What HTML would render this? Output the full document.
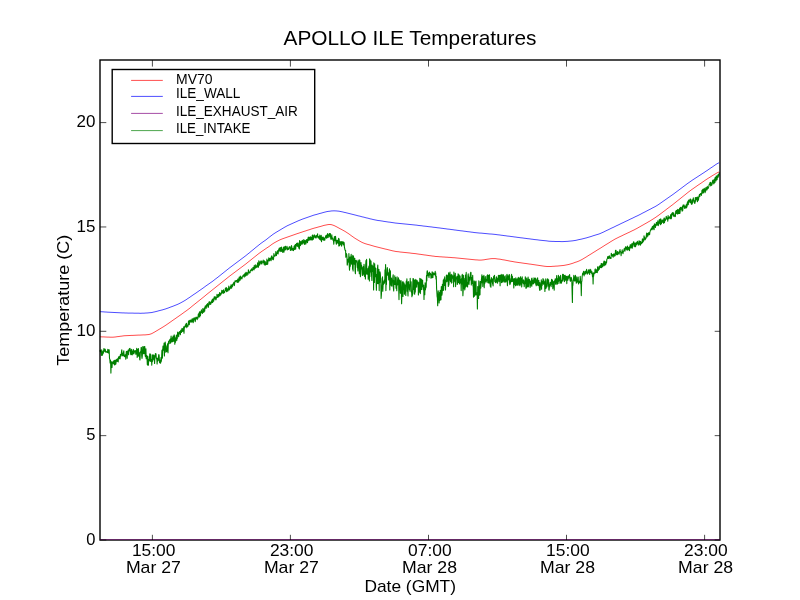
<!DOCTYPE html>
<html><head><meta charset="utf-8"><title>APOLLO ILE Temperatures</title>
<style>
html,body{margin:0;padding:0;background:#fff;}
body{width:800px;height:600px;overflow:hidden;font-family:"Liberation Sans",sans-serif;}
svg{display:block;will-change:transform;transform:translateZ(0);}
text{font-family:"Liberation Sans",sans-serif;fill:#000;}
</style></head><body>
<svg width="800" height="600" viewBox="0 0 800 600">
<rect width="800" height="600" fill="#ffffff"/>
<g>
<path d="M100.0,336.8 L101.0,336.8 L102.0,336.9 L103.0,336.9 L104.0,336.9 L105.0,337.0 L106.0,337.0 L107.0,337.1 L108.0,337.1 L109.0,337.1 L110.0,337.2 L111.0,337.2 L112.0,337.2 L113.0,337.2 L114.0,337.1 L115.0,337.0 L116.0,336.9 L117.0,336.7 L118.0,336.6 L119.0,336.5 L120.0,336.3 L121.0,336.2 L122.0,336.1 L123.0,335.9 L124.0,335.8 L125.0,335.7 L126.0,335.7 L127.0,335.6 L128.0,335.6 L129.0,335.5 L130.0,335.5 L131.0,335.4 L132.0,335.4 L133.0,335.4 L134.0,335.3 L135.0,335.3 L136.0,335.2 L137.0,335.2 L138.0,335.1 L139.0,335.1 L140.0,335.1 L141.0,335.0 L142.0,335.0 L143.0,334.9 L144.0,334.9 L145.0,334.9 L146.0,334.8 L147.0,334.7 L148.0,334.6 L149.0,334.5 L150.0,334.2 L151.0,333.9 L152.0,333.5 L153.0,332.9 L154.0,332.4 L155.0,331.8 L156.0,331.2 L157.0,330.6 L158.0,330.0 L159.0,329.4 L160.0,328.8 L161.0,328.2 L162.0,327.6 L163.0,327.0 L164.0,326.4 L165.0,325.7 L166.0,325.1 L167.0,324.4 L168.0,323.7 L169.0,323.0 L170.0,322.3 L171.0,321.6 L172.0,320.9 L173.0,320.2 L174.0,319.5 L175.0,318.8 L176.0,318.1 L177.0,317.4 L178.0,316.7 L179.0,316.0 L180.0,315.3 L181.0,314.6 L182.0,313.9 L183.0,313.2 L184.0,312.4 L185.0,311.7 L186.0,311.0 L187.0,310.3 L188.0,309.5 L189.0,308.8 L190.0,308.0 L191.0,307.2 L192.0,306.3 L193.0,305.5 L194.0,304.7 L195.0,303.9 L196.0,303.1 L197.0,302.3 L198.0,301.5 L199.0,300.7 L200.0,299.9 L201.0,299.1 L202.0,298.3 L203.0,297.5 L204.0,296.7 L205.0,295.9 L206.0,295.0 L207.0,294.2 L208.0,293.4 L209.0,292.6 L210.0,291.8 L211.0,291.0 L212.0,290.2 L213.0,289.4 L214.0,288.6 L215.0,287.8 L216.0,287.0 L217.0,286.2 L218.0,285.4 L219.0,284.6 L220.0,283.8 L221.0,283.0 L222.0,282.2 L223.0,281.4 L224.0,280.6 L225.0,279.8 L226.0,279.0 L227.0,278.2 L228.0,277.4 L229.0,276.6 L230.0,275.8 L231.0,275.1 L232.0,274.3 L233.0,273.6 L234.0,272.8 L235.0,272.1 L236.0,271.3 L237.0,270.6 L238.0,269.8 L239.0,269.1 L240.0,268.3 L241.0,267.6 L242.0,266.8 L243.0,266.1 L244.0,265.3 L245.0,264.6 L246.0,263.8 L247.0,263.0 L248.0,262.2 L249.0,261.4 L250.0,260.6 L251.0,259.8 L252.0,259.0 L253.0,258.2 L254.0,257.4 L255.0,256.6 L256.0,255.8 L257.0,255.0 L258.0,254.2 L259.0,253.4 L260.0,252.7 L261.0,252.0 L262.0,251.2 L263.0,250.6 L264.0,249.9 L265.0,249.2 L266.0,248.5 L267.0,247.8 L268.0,247.2 L269.0,246.5 L270.0,245.8 L271.0,245.0 L272.0,244.3 L273.0,243.6 L274.0,243.0 L275.0,242.4 L276.0,241.9 L277.0,241.3 L278.0,240.8 L279.0,240.3 L280.0,239.8 L281.0,239.4 L282.0,239.0 L283.0,238.6 L284.0,238.3 L285.0,237.9 L286.0,237.6 L287.0,237.2 L288.0,236.9 L289.0,236.5 L290.0,236.2 L291.0,235.8 L292.0,235.5 L293.0,235.1 L294.0,234.8 L295.0,234.4 L296.0,234.1 L297.0,233.7 L298.0,233.4 L299.0,233.1 L300.0,232.7 L301.0,232.4 L302.0,232.1 L303.0,231.7 L304.0,231.4 L305.0,231.1 L306.0,230.8 L307.0,230.4 L308.0,230.1 L309.0,229.8 L310.0,229.5 L311.0,229.1 L312.0,228.8 L313.0,228.5 L314.0,228.2 L315.0,227.9 L316.0,227.7 L317.0,227.4 L318.0,227.1 L319.0,226.8 L320.0,226.6 L321.0,226.3 L322.0,226.0 L323.0,225.7 L324.0,225.4 L325.0,225.2 L326.0,225.0 L327.0,224.8 L328.0,224.6 L329.0,224.5 L330.0,224.5 L331.0,224.6 L332.0,224.8 L333.0,225.2 L334.0,225.5 L335.0,226.0 L336.0,226.5 L337.0,227.0 L338.0,227.6 L339.0,228.1 L340.0,228.7 L341.0,229.2 L342.0,229.7 L343.0,230.3 L344.0,230.8 L345.0,231.4 L346.0,232.0 L347.0,232.7 L348.0,233.3 L349.0,234.0 L350.0,234.7 L351.0,235.5 L352.0,236.2 L353.0,236.9 L354.0,237.6 L355.0,238.3 L356.0,238.9 L357.0,239.5 L358.0,240.1 L359.0,240.7 L360.0,241.3 L361.0,241.8 L362.0,242.4 L363.0,242.8 L364.0,243.2 L365.0,243.6 L366.0,243.9 L367.0,244.2 L368.0,244.5 L369.0,244.7 L370.0,245.0 L371.0,245.3 L372.0,245.6 L373.0,245.9 L374.0,246.2 L375.0,246.5 L376.0,246.7 L377.0,247.0 L378.0,247.2 L379.0,247.5 L380.0,247.7 L381.0,248.0 L382.0,248.2 L383.0,248.5 L384.0,248.7 L385.0,249.0 L386.0,249.2 L387.0,249.4 L388.0,249.7 L389.0,249.9 L390.0,250.2 L391.0,250.4 L392.0,250.7 L393.0,250.9 L394.0,251.1 L395.0,251.3 L396.0,251.5 L397.0,251.6 L398.0,251.7 L399.0,251.8 L400.0,252.0 L401.0,252.1 L402.0,252.2 L403.0,252.3 L404.0,252.4 L405.0,252.5 L406.0,252.6 L407.0,252.7 L408.0,252.8 L409.0,252.9 L410.0,253.0 L411.0,253.2 L412.0,253.3 L413.0,253.4 L414.0,253.5 L415.0,253.6 L416.0,253.7 L417.0,253.9 L418.0,254.0 L419.0,254.2 L420.0,254.3 L421.0,254.4 L422.0,254.6 L423.0,254.7 L424.0,254.9 L425.0,255.0 L426.0,255.1 L427.0,255.3 L428.0,255.4 L429.0,255.6 L430.0,255.7 L431.0,255.8 L432.0,256.0 L433.0,256.1 L434.0,256.2 L435.0,256.4 L436.0,256.5 L437.0,256.5 L438.0,256.6 L439.0,256.7 L440.0,256.8 L441.0,256.8 L442.0,256.9 L443.0,257.0 L444.0,257.0 L445.0,257.1 L446.0,257.2 L447.0,257.2 L448.0,257.3 L449.0,257.4 L450.0,257.4 L451.0,257.5 L452.0,257.6 L453.0,257.7 L454.0,257.7 L455.0,257.8 L456.0,257.9 L457.0,258.0 L458.0,258.1 L459.0,258.2 L460.0,258.3 L461.0,258.4 L462.0,258.5 L463.0,258.6 L464.0,258.7 L465.0,258.8 L466.0,258.9 L467.0,259.0 L468.0,259.1 L469.0,259.2 L470.0,259.3 L471.0,259.4 L472.0,259.5 L473.0,259.6 L474.0,259.7 L475.0,259.8 L476.0,259.9 L477.0,259.9 L478.0,260.0 L479.0,260.1 L480.0,260.1 L481.0,260.1 L482.0,260.0 L483.0,259.9 L484.0,259.8 L485.0,259.6 L486.0,259.4 L487.0,259.3 L488.0,259.1 L489.0,259.0 L490.0,258.8 L491.0,258.7 L492.0,258.6 L493.0,258.6 L494.0,258.6 L495.0,258.6 L496.0,258.7 L497.0,258.9 L498.0,259.0 L499.0,259.1 L500.0,259.2 L501.0,259.4 L502.0,259.6 L503.0,259.8 L504.0,259.9 L505.0,260.1 L506.0,260.3 L507.0,260.5 L508.0,260.7 L509.0,260.9 L510.0,261.1 L511.0,261.3 L512.0,261.4 L513.0,261.6 L514.0,261.8 L515.0,262.0 L516.0,262.1 L517.0,262.3 L518.0,262.4 L519.0,262.6 L520.0,262.7 L521.0,262.8 L522.0,263.0 L523.0,263.1 L524.0,263.3 L525.0,263.4 L526.0,263.5 L527.0,263.7 L528.0,263.8 L529.0,264.0 L530.0,264.1 L531.0,264.2 L532.0,264.4 L533.0,264.5 L534.0,264.7 L535.0,264.8 L536.0,265.0 L537.0,265.1 L538.0,265.3 L539.0,265.4 L540.0,265.6 L541.0,265.7 L542.0,265.9 L543.0,266.0 L544.0,266.2 L545.0,266.3 L546.0,266.4 L547.0,266.5 L548.0,266.5 L549.0,266.5 L550.0,266.5 L551.0,266.5 L552.0,266.4 L553.0,266.3 L554.0,266.3 L555.0,266.2 L556.0,266.1 L557.0,266.1 L558.0,266.0 L559.0,265.9 L560.0,265.8 L561.0,265.7 L562.0,265.6 L563.0,265.5 L564.0,265.4 L565.0,265.2 L566.0,265.0 L567.0,264.8 L568.0,264.6 L569.0,264.4 L570.0,264.1 L571.0,263.8 L572.0,263.5 L573.0,263.2 L574.0,262.8 L575.0,262.4 L576.0,262.1 L577.0,261.8 L578.0,261.4 L579.0,261.0 L580.0,260.5 L581.0,260.0 L582.0,259.5 L583.0,258.9 L584.0,258.3 L585.0,257.7 L586.0,257.1 L587.0,256.5 L588.0,255.8 L589.0,255.2 L590.0,254.6 L591.0,254.0 L592.0,253.4 L593.0,252.7 L594.0,252.1 L595.0,251.5 L596.0,250.9 L597.0,250.2 L598.0,249.6 L599.0,249.0 L600.0,248.4 L601.0,247.8 L602.0,247.1 L603.0,246.5 L604.0,245.9 L605.0,245.2 L606.0,244.6 L607.0,244.0 L608.0,243.4 L609.0,242.8 L610.0,242.1 L611.0,241.5 L612.0,240.9 L613.0,240.3 L614.0,239.7 L615.0,239.1 L616.0,238.6 L617.0,238.1 L618.0,237.6 L619.0,237.1 L620.0,236.6 L621.0,236.2 L622.0,235.7 L623.0,235.2 L624.0,234.7 L625.0,234.2 L626.0,233.8 L627.0,233.3 L628.0,232.8 L629.0,232.4 L630.0,231.9 L631.0,231.4 L632.0,230.9 L633.0,230.4 L634.0,230.0 L635.0,229.4 L636.0,228.9 L637.0,228.4 L638.0,227.8 L639.0,227.2 L640.0,226.7 L641.0,226.1 L642.0,225.5 L643.0,225.0 L644.0,224.4 L645.0,223.8 L646.0,223.3 L647.0,222.7 L648.0,222.1 L649.0,221.5 L650.0,221.0 L651.0,220.3 L652.0,219.7 L653.0,219.1 L654.0,218.4 L655.0,217.8 L656.0,217.1 L657.0,216.4 L658.0,215.7 L659.0,215.0 L660.0,214.2 L661.0,213.5 L662.0,212.7 L663.0,212.0 L664.0,211.2 L665.0,210.5 L666.0,209.7 L667.0,208.9 L668.0,208.2 L669.0,207.4 L670.0,206.7 L671.0,205.9 L672.0,205.2 L673.0,204.4 L674.0,203.6 L675.0,202.8 L676.0,202.0 L677.0,201.2 L678.0,200.4 L679.0,199.6 L680.0,198.8 L681.0,198.0 L682.0,197.2 L683.0,196.4 L684.0,195.6 L685.0,194.8 L686.0,194.0 L687.0,193.2 L688.0,192.4 L689.0,191.6 L690.0,190.9 L691.0,190.1 L692.0,189.4 L693.0,188.7 L694.0,188.0 L695.0,187.3 L696.0,186.6 L697.0,185.9 L698.0,185.2 L699.0,184.5 L700.0,183.9 L701.0,183.2 L702.0,182.5 L703.0,181.8 L704.0,181.1 L705.0,180.4 L706.0,179.7 L707.0,179.1 L708.0,178.4 L709.0,177.8 L710.0,177.2 L711.0,176.5 L712.0,175.9 L713.0,175.3 L714.0,174.7 L715.0,174.1 L716.0,173.5 L717.0,172.9 L718.0,172.4 L719.0,172.0" fill="none" stroke="#ff0000" stroke-width="0.7"/>
<path d="M100.0,311.7 L101.0,311.7 L102.0,311.8 L103.0,311.8 L104.0,311.9 L105.0,312.0 L106.0,312.0 L107.0,312.1 L108.0,312.2 L109.0,312.2 L110.0,312.3 L111.0,312.3 L112.0,312.4 L113.0,312.4 L114.0,312.5 L115.0,312.5 L116.0,312.6 L117.0,312.6 L118.0,312.7 L119.0,312.7 L120.0,312.8 L121.0,312.8 L122.0,312.9 L123.0,312.9 L124.0,312.9 L125.0,313.0 L126.0,313.0 L127.0,313.0 L128.0,313.1 L129.0,313.1 L130.0,313.1 L131.0,313.1 L132.0,313.1 L133.0,313.1 L134.0,313.2 L135.0,313.2 L136.0,313.2 L137.0,313.2 L138.0,313.2 L139.0,313.2 L140.0,313.3 L141.0,313.3 L142.0,313.2 L143.0,313.2 L144.0,313.2 L145.0,313.1 L146.0,313.0 L147.0,313.0 L148.0,312.9 L149.0,312.8 L150.0,312.7 L151.0,312.6 L152.0,312.5 L153.0,312.2 L154.0,312.0 L155.0,311.8 L156.0,311.5 L157.0,311.3 L158.0,311.0 L159.0,310.7 L160.0,310.5 L161.0,310.2 L162.0,310.0 L163.0,309.7 L164.0,309.4 L165.0,309.1 L166.0,308.8 L167.0,308.4 L168.0,308.1 L169.0,307.7 L170.0,307.3 L171.0,306.9 L172.0,306.6 L173.0,306.2 L174.0,305.8 L175.0,305.4 L176.0,305.0 L177.0,304.6 L178.0,304.2 L179.0,303.7 L180.0,303.2 L181.0,302.7 L182.0,302.1 L183.0,301.6 L184.0,301.0 L185.0,300.4 L186.0,299.8 L187.0,299.1 L188.0,298.4 L189.0,297.8 L190.0,297.1 L191.0,296.4 L192.0,295.7 L193.0,295.0 L194.0,294.3 L195.0,293.7 L196.0,293.0 L197.0,292.3 L198.0,291.6 L199.0,290.9 L200.0,290.2 L201.0,289.5 L202.0,288.8 L203.0,288.1 L204.0,287.4 L205.0,286.6 L206.0,285.9 L207.0,285.2 L208.0,284.5 L209.0,283.8 L210.0,283.1 L211.0,282.4 L212.0,281.7 L213.0,281.0 L214.0,280.2 L215.0,279.4 L216.0,278.6 L217.0,277.9 L218.0,277.1 L219.0,276.3 L220.0,275.5 L221.0,274.7 L222.0,273.9 L223.0,273.1 L224.0,272.3 L225.0,271.5 L226.0,270.7 L227.0,269.9 L228.0,269.1 L229.0,268.3 L230.0,267.5 L231.0,266.8 L232.0,266.0 L233.0,265.3 L234.0,264.5 L235.0,263.8 L236.0,263.0 L237.0,262.3 L238.0,261.5 L239.0,260.8 L240.0,260.0 L241.0,259.3 L242.0,258.5 L243.0,257.8 L244.0,257.0 L245.0,256.3 L246.0,255.5 L247.0,254.7 L248.0,253.9 L249.0,253.1 L250.0,252.3 L251.0,251.4 L252.0,250.6 L253.0,249.8 L254.0,249.0 L255.0,248.1 L256.0,247.3 L257.0,246.5 L258.0,245.7 L259.0,244.9 L260.0,244.1 L261.0,243.3 L262.0,242.6 L263.0,241.9 L264.0,241.2 L265.0,240.5 L266.0,239.8 L267.0,239.0 L268.0,238.2 L269.0,237.4 L270.0,236.6 L271.0,235.9 L272.0,235.1 L273.0,234.3 L274.0,233.7 L275.0,233.0 L276.0,232.4 L277.0,231.8 L278.0,231.2 L279.0,230.6 L280.0,230.0 L281.0,229.4 L282.0,228.8 L283.0,228.2 L284.0,227.6 L285.0,227.0 L286.0,226.5 L287.0,225.9 L288.0,225.4 L289.0,225.0 L290.0,224.5 L291.0,224.1 L292.0,223.6 L293.0,223.2 L294.0,222.7 L295.0,222.3 L296.0,221.8 L297.0,221.4 L298.0,220.9 L299.0,220.5 L300.0,220.1 L301.0,219.7 L302.0,219.3 L303.0,218.9 L304.0,218.6 L305.0,218.2 L306.0,217.9 L307.0,217.5 L308.0,217.2 L309.0,216.8 L310.0,216.5 L311.0,216.1 L312.0,215.8 L313.0,215.4 L314.0,215.1 L315.0,214.8 L316.0,214.6 L317.0,214.3 L318.0,214.0 L319.0,213.7 L320.0,213.4 L321.0,213.2 L322.0,212.9 L323.0,212.6 L324.0,212.3 L325.0,212.1 L326.0,211.8 L327.0,211.6 L328.0,211.4 L329.0,211.3 L330.0,211.2 L331.0,211.0 L332.0,210.9 L333.0,210.9 L334.0,210.8 L335.0,210.9 L336.0,210.9 L337.0,211.0 L338.0,211.1 L339.0,211.2 L340.0,211.4 L341.0,211.6 L342.0,211.8 L343.0,212.0 L344.0,212.3 L345.0,212.5 L346.0,212.7 L347.0,213.0 L348.0,213.2 L349.0,213.5 L350.0,213.7 L351.0,214.0 L352.0,214.2 L353.0,214.5 L354.0,214.7 L355.0,215.0 L356.0,215.2 L357.0,215.5 L358.0,215.8 L359.0,216.0 L360.0,216.2 L361.0,216.5 L362.0,216.8 L363.0,217.0 L364.0,217.2 L365.0,217.5 L366.0,217.8 L367.0,218.0 L368.0,218.2 L369.0,218.5 L370.0,218.8 L371.0,219.0 L372.0,219.2 L373.0,219.5 L374.0,219.7 L375.0,219.9 L376.0,220.1 L377.0,220.3 L378.0,220.5 L379.0,220.6 L380.0,220.7 L381.0,220.9 L382.0,221.0 L383.0,221.2 L384.0,221.4 L385.0,221.5 L386.0,221.7 L387.0,221.8 L388.0,222.0 L389.0,222.1 L390.0,222.2 L391.0,222.4 L392.0,222.5 L393.0,222.7 L394.0,222.8 L395.0,223.0 L396.0,223.1 L397.0,223.2 L398.0,223.3 L399.0,223.4 L400.0,223.5 L401.0,223.6 L402.0,223.7 L403.0,223.8 L404.0,223.9 L405.0,224.0 L406.0,224.1 L407.0,224.2 L408.0,224.3 L409.0,224.4 L410.0,224.5 L411.0,224.6 L412.0,224.7 L413.0,224.8 L414.0,224.9 L415.0,225.0 L416.0,225.1 L417.0,225.2 L418.0,225.4 L419.0,225.5 L420.0,225.6 L421.0,225.7 L422.0,225.8 L423.0,226.0 L424.0,226.1 L425.0,226.2 L426.0,226.3 L427.0,226.4 L428.0,226.6 L429.0,226.7 L430.0,226.8 L431.0,226.9 L432.0,227.0 L433.0,227.2 L434.0,227.3 L435.0,227.4 L436.0,227.5 L437.0,227.7 L438.0,227.8 L439.0,227.9 L440.0,228.0 L441.0,228.2 L442.0,228.3 L443.0,228.4 L444.0,228.6 L445.0,228.7 L446.0,228.8 L447.0,229.0 L448.0,229.1 L449.0,229.2 L450.0,229.3 L451.0,229.5 L452.0,229.6 L453.0,229.7 L454.0,229.9 L455.0,230.0 L456.0,230.1 L457.0,230.3 L458.0,230.4 L459.0,230.5 L460.0,230.7 L461.0,230.8 L462.0,230.9 L463.0,231.0 L464.0,231.2 L465.0,231.3 L466.0,231.4 L467.0,231.6 L468.0,231.7 L469.0,231.8 L470.0,231.9 L471.0,232.1 L472.0,232.2 L473.0,232.3 L474.0,232.5 L475.0,232.6 L476.0,232.7 L477.0,232.8 L478.0,232.9 L479.0,233.0 L480.0,233.1 L481.0,233.1 L482.0,233.2 L483.0,233.3 L484.0,233.4 L485.0,233.5 L486.0,233.6 L487.0,233.7 L488.0,233.8 L489.0,233.9 L490.0,234.0 L491.0,234.0 L492.0,234.1 L493.0,234.2 L494.0,234.3 L495.0,234.4 L496.0,234.5 L497.0,234.7 L498.0,234.8 L499.0,234.9 L500.0,235.0 L501.0,235.2 L502.0,235.3 L503.0,235.4 L504.0,235.6 L505.0,235.7 L506.0,235.8 L507.0,236.0 L508.0,236.1 L509.0,236.2 L510.0,236.3 L511.0,236.5 L512.0,236.6 L513.0,236.7 L514.0,236.9 L515.0,237.0 L516.0,237.1 L517.0,237.3 L518.0,237.4 L519.0,237.5 L520.0,237.7 L521.0,237.8 L522.0,237.9 L523.0,238.0 L524.0,238.2 L525.0,238.3 L526.0,238.4 L527.0,238.6 L528.0,238.7 L529.0,238.8 L530.0,238.9 L531.0,239.1 L532.0,239.2 L533.0,239.3 L534.0,239.5 L535.0,239.6 L536.0,239.7 L537.0,239.8 L538.0,239.9 L539.0,240.1 L540.0,240.2 L541.0,240.3 L542.0,240.4 L543.0,240.5 L544.0,240.6 L545.0,240.7 L546.0,240.8 L547.0,240.9 L548.0,241.1 L549.0,241.2 L550.0,241.3 L551.0,241.3 L552.0,241.4 L553.0,241.4 L554.0,241.4 L555.0,241.5 L556.0,241.5 L557.0,241.5 L558.0,241.5 L559.0,241.5 L560.0,241.5 L561.0,241.6 L562.0,241.6 L563.0,241.6 L564.0,241.5 L565.0,241.5 L566.0,241.4 L567.0,241.4 L568.0,241.3 L569.0,241.2 L570.0,241.1 L571.0,241.0 L572.0,240.9 L573.0,240.8 L574.0,240.6 L575.0,240.5 L576.0,240.3 L577.0,240.1 L578.0,239.8 L579.0,239.6 L580.0,239.4 L581.0,239.2 L582.0,239.0 L583.0,238.7 L584.0,238.5 L585.0,238.2 L586.0,238.0 L587.0,237.7 L588.0,237.4 L589.0,237.1 L590.0,236.8 L591.0,236.5 L592.0,236.2 L593.0,235.8 L594.0,235.5 L595.0,235.2 L596.0,234.9 L597.0,234.6 L598.0,234.3 L599.0,234.0 L600.0,233.6 L601.0,233.2 L602.0,232.7 L603.0,232.3 L604.0,231.8 L605.0,231.3 L606.0,230.8 L607.0,230.3 L608.0,229.9 L609.0,229.4 L610.0,228.9 L611.0,228.4 L612.0,227.9 L613.0,227.5 L614.0,227.0 L615.0,226.5 L616.0,226.0 L617.0,225.5 L618.0,225.1 L619.0,224.6 L620.0,224.1 L621.0,223.6 L622.0,223.1 L623.0,222.7 L624.0,222.2 L625.0,221.7 L626.0,221.2 L627.0,220.8 L628.0,220.3 L629.0,219.8 L630.0,219.3 L631.0,218.8 L632.0,218.4 L633.0,217.9 L634.0,217.4 L635.0,216.9 L636.0,216.4 L637.0,216.0 L638.0,215.5 L639.0,215.0 L640.0,214.5 L641.0,214.0 L642.0,213.4 L643.0,212.9 L644.0,212.4 L645.0,211.9 L646.0,211.4 L647.0,210.8 L648.0,210.3 L649.0,209.8 L650.0,209.3 L651.0,208.8 L652.0,208.2 L653.0,207.7 L654.0,207.2 L655.0,206.7 L656.0,206.1 L657.0,205.5 L658.0,204.9 L659.0,204.2 L660.0,203.5 L661.0,202.8 L662.0,202.1 L663.0,201.4 L664.0,200.7 L665.0,200.0 L666.0,199.3 L667.0,198.6 L668.0,197.9 L669.0,197.2 L670.0,196.5 L671.0,195.8 L672.0,195.1 L673.0,194.4 L674.0,193.7 L675.0,192.9 L676.0,192.2 L677.0,191.4 L678.0,190.7 L679.0,189.9 L680.0,189.2 L681.0,188.4 L682.0,187.7 L683.0,186.9 L684.0,186.2 L685.0,185.4 L686.0,184.7 L687.0,183.9 L688.0,183.2 L689.0,182.5 L690.0,181.8 L691.0,181.1 L692.0,180.4 L693.0,179.7 L694.0,179.1 L695.0,178.4 L696.0,177.8 L697.0,177.1 L698.0,176.5 L699.0,175.8 L700.0,175.2 L701.0,174.5 L702.0,173.9 L703.0,173.2 L704.0,172.6 L705.0,171.9 L706.0,171.2 L707.0,170.6 L708.0,169.9 L709.0,169.2 L710.0,168.5 L711.0,167.8 L712.0,167.2 L713.0,166.5 L714.0,165.8 L715.0,165.1 L716.0,164.4 L717.0,163.8 L718.0,163.2 L719.0,162.8" fill="none" stroke="#0000ff" stroke-width="0.7"/>
<path d="M100.0,351.7 L100.3,350.0 L100.6,351.5 L100.8,352.1 L101.1,351.2 L101.4,355.4 L101.7,349.7 L102.0,353.3 L102.2,354.5 L102.5,355.2 L102.8,353.1 L103.1,351.1 L103.4,353.2 L103.6,352.3 L103.9,348.5 L104.2,351.5 L104.5,350.9 L104.8,349.4 L105.0,349.1 L105.3,349.6 L105.6,352.1 L105.9,352.0 L106.2,351.8 L106.4,351.7 L106.7,352.1 L107.0,351.3 L107.3,352.5 L107.6,351.6 L107.8,349.2 L108.1,352.7 L108.4,349.7 L108.7,350.7 L109.0,353.6 L109.2,349.9 L109.5,358.4 L109.8,359.3 L110.1,363.0 L110.4,360.1 L110.6,361.1 L110.9,373.1 L111.2,362.1 L111.5,364.7 L111.8,361.9 L112.0,367.5 L112.3,363.2 L112.6,362.8 L112.9,361.9 L113.2,363.5 L113.4,362.7 L113.7,360.8 L114.0,363.8 L114.3,364.7 L114.6,360.2 L114.8,365.0 L115.1,362.3 L115.4,360.1 L115.7,364.3 L116.0,363.1 L116.2,360.7 L116.5,360.1 L116.8,359.3 L117.1,361.5 L117.4,358.7 L117.6,358.7 L117.9,360.5 L118.2,362.0 L118.5,356.8 L118.8,358.4 L119.0,357.8 L119.3,358.3 L119.6,356.4 L119.9,359.0 L120.2,358.4 L120.4,354.5 L120.7,356.3 L121.0,354.0 L121.3,354.4 L121.6,350.8 L121.8,349.8 L122.1,355.9 L122.4,353.2 L122.7,354.7 L123.0,355.7 L123.2,352.9 L123.5,352.5 L123.8,350.8 L124.1,356.2 L124.4,356.5 L124.6,355.6 L124.9,356.8 L125.2,354.7 L125.5,355.0 L125.8,359.1 L126.0,355.3 L126.3,351.6 L126.6,352.3 L126.9,351.2 L127.2,358.2 L127.4,353.8 L127.7,353.0 L128.0,350.8 L128.3,349.9 L128.6,354.7 L128.8,350.4 L129.1,351.3 L129.4,348.6 L129.7,350.1 L130.0,348.3 L130.2,350.2 L130.5,352.8 L130.8,354.6 L131.1,351.9 L131.4,349.2 L131.6,354.4 L131.9,351.8 L132.2,354.9 L132.5,351.1 L132.8,353.9 L133.0,350.3 L133.3,349.4 L133.6,351.0 L133.9,353.9 L134.2,352.5 L134.4,350.9 L134.7,350.9 L135.0,352.0 L135.3,350.5 L135.6,351.3 L135.8,354.3 L136.1,354.0 L136.4,353.4 L136.7,348.2 L137.0,351.4 L137.2,357.4 L137.5,355.0 L137.8,349.4 L138.1,355.9 L138.4,348.5 L138.6,350.4 L138.9,356.2 L139.2,352.3 L139.5,355.9 L139.8,359.7 L140.0,360.0 L140.3,353.5 L140.6,351.5 L140.9,351.3 L141.2,347.4 L141.4,347.5 L141.7,355.8 L142.0,358.5 L142.3,356.2 L142.6,349.8 L142.8,346.5 L143.1,351.9 L143.4,353.8 L143.7,352.9 L144.0,346.6 L144.2,348.5 L144.5,353.5 L144.8,346.6 L145.1,355.0 L145.4,356.6 L145.6,349.8 L145.9,348.8 L146.2,358.8 L146.5,357.5 L146.8,355.5 L147.0,356.6 L147.3,364.6 L147.6,356.4 L147.9,365.3 L148.2,365.0 L148.4,365.2 L148.7,359.2 L149.0,361.5 L149.3,356.4 L149.6,355.4 L149.8,353.8 L150.1,360.5 L150.4,354.0 L150.7,361.5 L151.0,359.4 L151.2,361.2 L151.5,360.3 L151.8,365.1 L152.1,354.8 L152.4,361.6 L152.6,355.8 L152.9,360.1 L153.2,354.8 L153.5,355.9 L153.8,359.1 L154.0,355.4 L154.3,359.8 L154.6,363.5 L154.9,356.1 L155.2,355.9 L155.4,353.5 L155.7,357.0 L156.0,353.9 L156.3,358.3 L156.6,359.2 L156.8,358.2 L157.1,364.0 L157.4,358.5 L157.7,361.1 L158.0,357.9 L158.2,360.7 L158.5,356.3 L158.8,354.5 L159.1,355.2 L159.4,360.2 L159.6,362.6 L159.9,360.0 L160.2,361.1 L160.5,363.3 L160.8,362.2 L161.0,357.5 L161.3,361.4 L161.6,358.4 L161.9,350.7 L162.2,349.8 L162.4,358.1 L162.7,350.4 L163.0,346.0 L163.3,347.1 L163.6,350.3 L163.8,347.8 L164.1,343.0 L164.4,355.9 L164.7,346.8 L165.0,347.0 L165.2,342.1 L165.5,344.8 L165.8,352.2 L166.1,351.2 L166.4,351.7 L166.6,349.6 L166.9,345.9 L167.2,351.2 L167.5,343.9 L167.8,346.4 L168.0,352.8 L168.3,343.7 L168.6,341.3 L168.9,341.5 L169.2,343.8 L169.4,340.1 L169.7,340.1 L170.0,339.6 L170.3,339.2 L170.6,343.1 L170.8,340.6 L171.1,336.1 L171.4,341.9 L171.7,339.7 L172.0,341.8 L172.2,339.3 L172.5,337.5 L172.8,341.8 L173.1,336.0 L173.4,336.7 L173.6,338.3 L173.9,341.3 L174.2,334.8 L174.5,336.5 L174.8,344.3 L175.0,339.0 L175.3,342.6 L175.6,339.1 L175.9,337.1 L176.2,336.4 L176.4,335.0 L176.7,340.8 L177.0,338.2 L177.3,338.5 L177.6,332.3 L177.8,332.1 L178.1,335.0 L178.4,334.8 L178.7,336.8 L179.0,332.6 L179.2,332.4 L179.5,331.6 L179.8,332.5 L180.1,333.7 L180.4,334.8 L180.6,330.7 L180.9,330.2 L181.2,332.3 L181.5,332.4 L181.8,329.3 L182.0,328.4 L182.3,329.0 L182.6,331.4 L182.9,329.7 L183.2,328.4 L183.4,331.3 L183.7,326.8 L184.0,333.3 L184.3,327.2 L184.6,326.7 L184.8,327.6 L185.1,326.6 L185.4,324.8 L185.7,326.5 L186.0,325.7 L186.2,323.4 L186.5,323.3 L186.8,327.8 L187.1,325.2 L187.4,325.8 L187.6,325.0 L187.9,326.4 L188.2,324.7 L188.5,321.1 L188.8,322.3 L189.0,320.8 L189.3,324.7 L189.6,320.9 L189.9,320.3 L190.2,322.1 L190.4,321.7 L190.7,320.7 L191.0,319.9 L191.3,322.2 L191.6,320.9 L191.8,321.6 L192.1,318.7 L192.4,319.1 L192.7,321.9 L193.0,319.1 L193.2,322.6 L193.5,321.0 L193.8,318.0 L194.1,319.8 L194.4,319.4 L194.6,317.9 L194.9,320.0 L195.2,321.6 L195.5,320.2 L195.8,317.2 L196.0,318.6 L196.3,317.2 L196.6,317.5 L196.9,317.3 L197.2,319.6 L197.4,317.2 L197.7,317.4 L198.0,318.2 L198.3,314.2 L198.6,313.9 L198.8,316.6 L199.1,314.9 L199.4,312.0 L199.7,317.0 L200.0,311.6 L200.2,315.8 L200.5,315.5 L200.8,312.8 L201.1,312.5 L201.4,309.8 L201.6,312.6 L201.9,312.5 L202.2,311.3 L202.5,313.5 L202.8,308.5 L203.0,312.4 L203.3,310.5 L203.6,309.6 L203.9,312.1 L204.2,308.0 L204.4,308.6 L204.7,311.2 L205.0,307.3 L205.3,305.8 L205.6,307.7 L205.8,306.1 L206.1,308.5 L206.4,307.1 L206.7,304.6 L207.0,305.9 L207.2,305.2 L207.5,303.5 L207.8,305.1 L208.1,307.4 L208.4,306.9 L208.6,305.3 L208.9,302.1 L209.2,304.7 L209.5,303.9 L209.8,301.5 L210.0,303.0 L210.3,303.7 L210.6,304.4 L210.9,303.8 L211.2,302.0 L211.4,302.1 L211.7,300.5 L212.0,302.8 L212.3,299.3 L212.6,302.4 L212.8,302.0 L213.1,298.9 L213.4,301.3 L213.7,301.2 L214.0,298.5 L214.2,296.8 L214.5,299.0 L214.8,298.7 L215.1,296.5 L215.4,298.9 L215.6,297.3 L215.9,299.9 L216.2,298.8 L216.5,297.3 L216.8,297.3 L217.0,294.3 L217.3,295.3 L217.6,297.5 L217.9,295.0 L218.2,296.2 L218.4,294.3 L218.7,297.0 L219.0,294.7 L219.3,295.7 L219.6,292.5 L219.8,293.9 L220.1,295.6 L220.4,293.4 L220.7,294.8 L221.0,294.4 L221.2,292.9 L221.5,293.4 L221.8,290.2 L222.1,290.7 L222.4,291.0 L222.6,292.4 L222.9,293.2 L223.2,290.9 L223.5,289.8 L223.8,293.1 L224.0,291.2 L224.3,292.1 L224.6,292.4 L224.9,291.1 L225.2,290.1 L225.4,288.1 L225.7,289.0 L226.0,290.6 L226.3,287.6 L226.6,291.8 L226.8,288.1 L227.1,290.8 L227.4,288.7 L227.7,291.3 L228.0,290.2 L228.2,290.5 L228.5,289.2 L228.8,286.0 L229.1,287.4 L229.4,289.9 L229.6,288.5 L229.9,288.8 L230.2,288.6 L230.5,286.4 L230.8,287.1 L231.0,284.7 L231.3,287.8 L231.6,288.2 L231.9,286.5 L232.2,284.7 L232.4,286.8 L232.7,284.3 L233.0,284.2 L233.3,283.6 L233.6,283.7 L233.8,282.3 L234.1,285.7 L234.4,285.4 L234.7,283.0 L235.0,280.9 L235.2,281.1 L235.5,281.6 L235.8,280.9 L236.1,280.6 L236.4,280.9 L236.6,280.5 L236.9,282.2 L237.2,280.1 L237.5,282.5 L237.8,280.1 L238.0,278.9 L238.3,280.8 L238.6,282.1 L238.9,281.3 L239.2,277.1 L239.4,277.8 L239.7,278.4 L240.0,280.5 L240.3,276.1 L240.6,279.3 L240.8,276.5 L241.1,277.4 L241.4,277.5 L241.7,278.4 L242.0,278.8 L242.2,277.2 L242.5,276.7 L242.8,276.5 L243.1,275.2 L243.4,275.2 L243.6,276.0 L243.9,274.5 L244.2,277.1 L244.5,275.8 L244.8,274.3 L245.0,273.2 L245.3,275.2 L245.6,276.2 L245.9,272.5 L246.2,272.3 L246.4,273.4 L246.7,274.6 L247.0,275.5 L247.3,272.7 L247.6,273.0 L247.8,273.9 L248.1,274.2 L248.4,269.8 L248.7,272.5 L249.0,271.8 L249.2,272.7 L249.5,273.0 L249.8,271.7 L250.1,272.7 L250.4,270.2 L250.6,270.5 L250.9,270.3 L251.2,269.9 L251.5,268.9 L251.8,270.1 L252.0,271.0 L252.3,269.0 L252.6,270.3 L252.9,267.5 L253.2,269.3 L253.4,267.3 L253.7,267.3 L254.0,270.0 L254.3,265.4 L254.6,268.5 L254.8,268.7 L255.1,267.0 L255.4,268.0 L255.7,264.7 L256.0,267.7 L256.2,266.3 L256.5,267.3 L256.8,266.7 L257.1,265.4 L257.4,265.6 L257.6,262.9 L257.9,267.3 L258.2,265.0 L258.5,267.1 L258.8,260.8 L259.0,261.2 L259.3,262.3 L259.6,265.2 L259.9,264.3 L260.2,262.7 L260.4,261.7 L260.7,262.6 L261.0,260.9 L261.3,263.7 L261.6,261.4 L261.8,264.0 L262.1,262.8 L262.4,262.2 L262.7,261.8 L263.0,261.4 L263.2,260.1 L263.5,262.7 L263.8,262.3 L264.1,264.3 L264.4,260.9 L264.6,264.2 L264.9,265.2 L265.2,261.5 L265.5,264.9 L265.8,262.7 L266.0,263.7 L266.3,263.9 L266.6,264.5 L266.9,259.0 L267.2,264.4 L267.4,261.9 L267.7,264.1 L268.0,260.3 L268.3,261.1 L268.6,259.7 L268.8,257.9 L269.1,258.5 L269.4,260.9 L269.7,259.9 L270.0,258.7 L270.2,258.1 L270.5,260.0 L270.8,259.9 L271.1,260.7 L271.4,256.7 L271.6,256.0 L271.9,255.9 L272.2,258.8 L272.5,259.2 L272.8,257.4 L273.0,257.9 L273.3,259.8 L273.6,258.4 L273.9,253.6 L274.2,255.8 L274.4,256.3 L274.7,256.0 L275.0,256.1 L275.3,254.8 L275.6,255.2 L275.8,251.5 L276.1,254.7 L276.4,255.6 L276.7,252.7 L277.0,253.6 L277.2,252.0 L277.5,250.7 L277.8,253.8 L278.1,254.0 L278.4,251.4 L278.6,249.6 L278.9,250.5 L279.2,248.0 L279.5,249.4 L279.8,249.8 L280.0,251.6 L280.3,247.5 L280.6,248.9 L280.9,249.3 L281.2,251.5 L281.4,247.0 L281.7,251.3 L282.0,250.3 L282.3,250.9 L282.6,249.3 L282.8,252.4 L283.1,247.9 L283.4,250.1 L283.7,247.0 L284.0,252.1 L284.2,247.0 L284.5,250.1 L284.8,249.6 L285.1,246.4 L285.4,249.3 L285.6,246.2 L285.9,249.9 L286.2,248.1 L286.5,248.3 L286.8,247.4 L287.0,246.4 L287.3,248.5 L287.6,249.9 L287.9,248.0 L288.2,249.5 L288.4,248.7 L288.7,249.1 L289.0,248.0 L289.3,246.7 L289.6,248.0 L289.8,246.7 L290.1,247.0 L290.4,250.4 L290.7,248.5 L291.0,250.1 L291.2,248.5 L291.5,245.6 L291.8,246.8 L292.1,249.9 L292.4,248.2 L292.6,250.2 L292.9,248.6 L293.2,248.6 L293.5,250.8 L293.8,248.5 L294.0,246.7 L294.3,245.8 L294.6,249.4 L294.9,247.2 L295.2,244.9 L295.4,244.5 L295.7,249.1 L296.0,244.2 L296.3,246.2 L296.6,243.4 L296.8,245.7 L297.1,245.6 L297.4,243.0 L297.7,246.5 L298.0,243.2 L298.2,243.1 L298.5,245.3 L298.8,248.1 L299.1,245.9 L299.4,249.0 L299.6,240.5 L299.9,243.5 L300.2,244.4 L300.5,245.6 L300.8,241.5 L301.0,243.0 L301.3,244.2 L301.6,243.9 L301.9,240.8 L302.2,244.2 L302.4,240.2 L302.7,242.4 L303.0,243.1 L303.3,241.0 L303.6,242.2 L303.8,239.5 L304.1,242.9 L304.4,244.5 L304.7,243.1 L305.0,240.2 L305.2,241.0 L305.5,240.7 L305.8,244.1 L306.1,242.9 L306.4,241.8 L306.6,239.5 L306.9,239.5 L307.2,240.4 L307.5,242.8 L307.8,239.2 L308.0,238.4 L308.3,237.1 L308.6,238.5 L308.9,240.7 L309.2,239.1 L309.4,237.2 L309.7,239.6 L310.0,239.4 L310.3,236.7 L310.6,237.3 L310.8,239.9 L311.1,237.2 L311.4,237.7 L311.7,237.9 L312.0,240.3 L312.2,236.0 L312.5,235.0 L312.8,239.6 L313.1,235.8 L313.4,239.2 L313.6,238.1 L313.9,237.8 L314.2,234.8 L314.5,237.2 L314.8,235.4 L315.0,236.2 L315.3,236.7 L315.6,238.0 L315.9,236.0 L316.2,238.0 L316.4,235.5 L316.7,236.7 L317.0,236.7 L317.3,235.0 L317.6,233.9 L317.8,237.1 L318.1,237.7 L318.4,237.9 L318.7,236.5 L319.0,236.7 L319.2,238.7 L319.5,239.1 L319.8,235.1 L320.1,236.7 L320.4,240.0 L320.6,238.9 L320.9,240.0 L321.2,235.3 L321.5,241.7 L321.8,238.5 L322.0,237.1 L322.3,237.3 L322.6,239.4 L322.9,239.7 L323.2,237.1 L323.4,240.2 L323.7,238.8 L324.0,238.0 L324.3,240.1 L324.6,239.5 L324.8,240.2 L325.1,237.6 L325.4,237.8 L325.7,235.8 L326.0,236.4 L326.2,235.5 L326.5,238.2 L326.8,237.6 L327.1,234.5 L327.4,237.7 L327.6,233.5 L327.9,234.8 L328.2,235.3 L328.5,235.2 L328.8,237.4 L329.0,236.6 L329.3,233.5 L329.6,233.5 L329.9,236.2 L330.2,233.6 L330.4,233.9 L330.7,238.4 L331.0,239.4 L331.3,236.2 L331.6,237.7 L331.8,234.8 L332.1,239.0 L332.4,238.0 L332.7,238.1 L333.0,239.6 L333.2,240.6 L333.5,240.7 L333.8,244.3 L334.1,239.9 L334.4,236.6 L334.6,238.7 L334.9,238.7 L335.2,240.8 L335.5,236.4 L335.8,238.5 L336.0,241.9 L336.3,244.3 L336.6,243.4 L336.9,240.3 L337.2,242.4 L337.4,240.3 L337.7,240.7 L338.0,243.4 L338.3,240.9 L338.6,238.3 L338.8,245.9 L339.1,238.8 L339.4,243.1 L339.7,245.6 L340.0,244.7 L340.2,241.5 L340.5,244.4 L340.8,243.6 L341.1,244.1 L341.4,241.5 L341.6,246.1 L341.9,242.2 L342.2,242.6 L342.5,243.6 L342.8,241.5 L343.0,241.8 L343.3,244.9 L343.6,243.7 L343.9,242.2 L344.2,243.4 L344.4,247.2 L344.7,248.3 L345.0,249.9 L345.3,250.6 L345.6,250.4 L345.8,257.3 L346.1,253.3 L346.4,253.9 L346.7,254.3 L347.0,257.9 L347.2,265.1 L347.5,264.0 L347.8,259.5 L348.1,259.3 L348.4,260.6 L348.6,262.2 L348.9,253.5 L349.2,264.7 L349.5,270.1 L349.8,266.0 L350.0,257.1 L350.3,266.2 L350.6,259.3 L350.9,256.9 L351.2,254.4 L351.4,262.2 L351.7,264.3 L352.0,261.2 L352.3,256.6 L352.6,269.3 L352.8,255.2 L353.1,270.9 L353.4,256.1 L353.7,257.9 L354.0,262.5 L354.2,264.3 L354.5,261.4 L354.8,258.2 L355.1,270.9 L355.4,273.7 L355.6,260.5 L355.9,262.1 L356.2,260.4 L356.5,261.7 L356.8,261.2 L357.0,263.0 L357.3,267.4 L357.6,267.3 L357.9,271.0 L358.2,260.0 L358.4,261.3 L358.7,265.6 L359.0,266.3 L359.3,273.8 L359.6,259.8 L359.8,260.5 L360.1,271.2 L360.4,276.6 L360.7,273.8 L361.0,262.5 L361.2,269.0 L361.5,265.0 L361.8,268.4 L362.1,268.4 L362.4,275.4 L362.6,267.9 L362.9,273.6 L363.2,266.5 L363.5,271.0 L363.8,274.9 L364.0,264.4 L364.3,267.2 L364.6,276.4 L364.9,273.7 L365.2,274.4 L365.4,278.9 L365.7,265.0 L366.0,260.6 L366.3,273.4 L366.6,259.4 L366.8,274.2 L367.1,274.0 L367.4,274.2 L367.7,270.8 L368.0,268.3 L368.2,279.3 L368.5,271.2 L368.8,266.8 L369.1,265.9 L369.4,281.0 L369.6,258.9 L369.9,276.6 L370.2,260.1 L370.5,272.0 L370.8,266.9 L371.0,261.0 L371.3,270.4 L371.6,275.7 L371.9,280.4 L372.2,265.1 L372.4,268.6 L372.7,271.0 L373.0,271.5 L373.3,266.1 L373.6,290.0 L373.8,262.9 L374.1,273.4 L374.4,282.5 L374.7,263.7 L375.0,276.6 L375.2,272.4 L375.5,268.1 L375.8,268.2 L376.1,282.4 L376.4,290.3 L376.6,274.9 L376.9,274.3 L377.2,283.5 L377.5,268.3 L377.8,265.1 L378.0,283.8 L378.3,272.5 L378.6,274.8 L378.9,269.3 L379.2,290.6 L379.4,272.6 L379.7,282.6 L380.0,271.8 L380.3,273.5 L380.6,278.2 L380.8,278.2 L381.1,298.5 L381.4,294.8 L381.7,287.3 L382.0,286.0 L382.2,283.9 L382.5,276.9 L382.8,291.2 L383.1,284.9 L383.4,281.7 L383.6,284.5 L383.9,281.7 L384.2,280.1 L384.5,283.3 L384.8,280.2 L385.0,269.7 L385.3,273.4 L385.6,264.5 L385.9,290.6 L386.2,276.3 L386.4,284.6 L386.7,275.0 L387.0,269.7 L387.3,267.5 L387.6,270.3 L387.8,275.3 L388.1,272.7 L388.4,272.8 L388.7,279.9 L389.0,277.6 L389.2,276.9 L389.5,268.7 L389.8,290.0 L390.1,274.4 L390.4,270.8 L390.6,279.9 L390.9,283.4 L391.2,285.8 L391.5,278.0 L391.8,283.8 L392.0,286.2 L392.3,280.4 L392.6,281.7 L392.9,276.7 L393.2,274.7 L393.4,287.9 L393.7,291.0 L394.0,280.8 L394.3,281.7 L394.6,284.4 L394.8,275.8 L395.1,283.7 L395.4,284.7 L395.7,277.6 L396.0,288.3 L396.2,285.0 L396.5,287.0 L396.8,290.7 L397.1,276.7 L397.4,285.2 L397.6,284.4 L397.9,283.4 L398.2,282.6 L398.5,277.9 L398.8,292.1 L399.0,299.6 L399.3,279.9 L399.6,281.4 L399.9,290.0 L400.2,281.1 L400.4,293.3 L400.7,292.9 L401.0,280.6 L401.3,291.3 L401.6,303.7 L401.8,297.2 L402.1,294.8 L402.4,281.7 L402.7,287.5 L403.0,296.4 L403.2,281.7 L403.5,289.8 L403.8,283.8 L404.1,283.0 L404.4,294.3 L404.6,289.7 L404.9,284.9 L405.2,288.8 L405.5,291.3 L405.8,295.5 L406.0,285.0 L406.3,281.1 L406.6,286.4 L406.9,278.8 L407.2,291.3 L407.4,281.8 L407.7,290.9 L408.0,296.0 L408.3,283.0 L408.6,281.5 L408.8,284.9 L409.1,285.0 L409.4,289.6 L409.7,284.5 L410.0,291.2 L410.2,278.2 L410.5,286.0 L410.8,283.5 L411.1,281.8 L411.4,292.3 L411.6,291.5 L411.9,296.7 L412.2,290.7 L412.5,295.3 L412.8,283.0 L413.0,278.5 L413.3,278.7 L413.6,289.6 L413.9,279.4 L414.2,293.8 L414.4,282.7 L414.7,294.3 L415.0,280.4 L415.3,292.1 L415.6,283.5 L415.8,279.4 L416.1,286.1 L416.4,284.1 L416.7,287.2 L417.0,280.3 L417.2,280.9 L417.5,283.9 L417.8,283.1 L418.1,282.1 L418.4,294.9 L418.6,284.5 L418.9,282.7 L419.2,282.8 L419.5,292.3 L419.8,278.2 L420.0,280.2 L420.3,293.6 L420.6,290.7 L420.9,278.8 L421.2,281.0 L421.4,279.3 L421.7,289.4 L422.0,282.0 L422.3,280.6 L422.6,280.1 L422.8,286.8 L423.1,284.8 L423.4,289.7 L423.7,285.2 L424.0,299.5 L424.2,287.5 L424.5,288.1 L424.8,294.8 L425.1,282.8 L425.4,290.0 L425.6,287.3 L425.9,288.0 L426.2,286.7 L426.5,275.4 L426.8,280.8 L427.0,272.1 L427.3,270.7 L427.6,272.1 L427.9,275.8 L428.2,272.7 L428.4,275.4 L428.7,275.0 L429.0,277.6 L429.3,273.9 L429.6,272.0 L429.8,274.9 L430.1,274.0 L430.4,273.5 L430.7,273.9 L431.0,278.3 L431.2,274.4 L431.5,275.1 L431.8,277.6 L432.1,271.7 L432.4,272.5 L432.6,274.3 L432.9,277.6 L433.2,272.8 L433.5,273.2 L433.8,274.7 L434.0,274.5 L434.3,274.7 L434.6,273.1 L434.9,273.9 L435.2,271.2 L435.4,276.0 L435.7,272.8 L436.0,279.0 L436.3,276.4 L436.6,288.7 L436.8,290.9 L437.1,296.3 L437.4,297.9 L437.7,305.8 L438.0,295.1 L438.2,290.8 L438.5,295.1 L438.8,295.8 L439.1,303.0 L439.4,298.1 L439.6,292.2 L439.9,300.5 L440.2,290.4 L440.5,294.4 L440.8,291.7 L441.0,299.8 L441.3,286.6 L441.6,294.3 L441.9,295.3 L442.2,292.9 L442.4,284.3 L442.7,289.2 L443.0,290.4 L443.3,280.1 L443.6,290.2 L443.8,280.9 L444.1,278.9 L444.4,285.4 L444.7,276.8 L445.0,284.9 L445.2,282.5 L445.5,289.9 L445.8,280.1 L446.1,282.0 L446.4,275.0 L446.6,279.9 L446.9,281.8 L447.2,275.1 L447.5,276.5 L447.8,280.7 L448.0,276.1 L448.3,286.5 L448.6,272.8 L448.9,284.9 L449.2,280.5 L449.4,276.6 L449.7,274.5 L450.0,272.1 L450.3,279.8 L450.6,281.6 L450.8,275.0 L451.1,276.3 L451.4,283.1 L451.7,274.4 L452.0,275.7 L452.2,276.0 L452.5,278.3 L452.8,275.7 L453.1,282.4 L453.4,280.6 L453.6,286.7 L453.9,272.0 L454.2,282.0 L454.5,280.2 L454.8,275.4 L455.0,279.1 L455.3,273.2 L455.6,286.6 L455.9,279.7 L456.2,277.7 L456.4,278.6 L456.7,277.7 L457.0,276.2 L457.3,284.5 L457.6,279.4 L457.8,283.1 L458.1,273.8 L458.4,282.5 L458.7,274.9 L459.0,277.7 L459.2,275.1 L459.5,284.0 L459.8,280.6 L460.1,276.0 L460.4,283.0 L460.6,280.0 L460.9,279.6 L461.2,290.6 L461.5,278.5 L461.8,283.9 L462.0,275.3 L462.3,274.3 L462.6,283.0 L462.9,295.7 L463.2,290.2 L463.4,275.4 L463.7,288.7 L464.0,278.4 L464.3,282.2 L464.6,284.1 L464.8,289.9 L465.1,287.2 L465.4,275.1 L465.7,287.0 L466.0,277.7 L466.2,272.4 L466.5,282.6 L466.8,286.1 L467.1,282.9 L467.4,284.9 L467.6,287.0 L467.9,276.1 L468.2,273.7 L468.5,277.2 L468.8,284.2 L469.0,284.4 L469.3,280.7 L469.6,277.0 L469.9,280.2 L470.2,275.5 L470.4,273.6 L470.7,272.3 L471.0,272.5 L471.3,284.9 L471.6,280.1 L471.8,277.5 L472.1,283.5 L472.4,280.2 L472.7,275.3 L473.0,285.9 L473.2,284.3 L473.5,297.2 L473.8,296.2 L474.1,280.9 L474.4,296.3 L474.6,283.2 L474.9,281.9 L475.2,286.0 L475.5,294.9 L475.8,285.9 L476.0,281.0 L476.3,294.7 L476.6,292.5 L476.9,295.1 L477.2,295.5 L477.4,308.9 L477.7,286.6 L478.0,296.5 L478.3,288.6 L478.6,298.5 L478.8,280.7 L479.1,295.4 L479.4,290.7 L479.7,285.7 L480.0,294.7 L480.2,281.6 L480.5,281.6 L480.8,288.2 L481.1,284.4 L481.4,279.5 L481.6,278.0 L481.9,274.7 L482.2,282.7 L482.5,276.2 L482.8,286.4 L483.0,281.0 L483.3,277.5 L483.6,276.3 L483.9,275.3 L484.2,287.7 L484.4,281.8 L484.7,283.7 L485.0,280.5 L485.3,276.5 L485.6,281.8 L485.8,280.1 L486.1,282.3 L486.4,279.3 L486.7,281.0 L487.0,275.9 L487.2,275.9 L487.5,274.9 L487.8,282.6 L488.1,279.1 L488.4,275.3 L488.6,282.9 L488.9,278.8 L489.2,275.7 L489.5,274.7 L489.8,283.7 L490.0,279.5 L490.3,286.3 L490.6,282.2 L490.9,287.3 L491.2,279.4 L491.4,277.6 L491.7,281.3 L492.0,281.9 L492.3,278.7 L492.6,284.0 L492.8,283.7 L493.1,286.0 L493.4,279.4 L493.7,276.2 L494.0,278.3 L494.2,276.7 L494.5,275.3 L494.8,281.8 L495.1,280.1 L495.4,280.1 L495.6,282.6 L495.9,281.8 L496.2,278.0 L496.5,276.8 L496.8,279.1 L497.0,282.4 L497.3,283.1 L497.6,283.2 L497.9,278.0 L498.2,279.5 L498.4,275.3 L498.7,278.3 L499.0,281.4 L499.3,275.7 L499.6,275.4 L499.8,277.3 L500.1,285.8 L500.4,275.8 L500.7,275.0 L501.0,277.7 L501.2,275.6 L501.5,282.6 L501.8,274.4 L502.1,274.5 L502.4,276.6 L502.6,282.1 L502.9,281.9 L503.2,276.6 L503.5,274.7 L503.8,280.8 L504.0,276.6 L504.3,282.3 L504.6,277.8 L504.9,278.4 L505.2,275.8 L505.4,281.3 L505.7,282.2 L506.0,281.5 L506.3,280.9 L506.6,277.6 L506.8,274.9 L507.1,274.4 L507.4,285.6 L507.7,281.1 L508.0,275.7 L508.2,277.5 L508.5,277.9 L508.8,279.9 L509.1,274.8 L509.4,274.6 L509.6,282.8 L509.9,284.6 L510.2,283.9 L510.5,282.4 L510.8,278.6 L511.0,281.7 L511.3,275.8 L511.6,274.4 L511.9,281.7 L512.2,278.9 L512.4,276.4 L512.7,281.0 L513.0,281.5 L513.3,278.9 L513.6,284.3 L513.8,288.0 L514.1,280.5 L514.4,278.6 L514.7,279.1 L515.0,284.4 L515.2,280.1 L515.5,285.7 L515.8,277.9 L516.1,281.7 L516.4,285.1 L516.6,284.4 L516.9,280.0 L517.2,278.7 L517.5,285.1 L517.8,281.4 L518.0,283.2 L518.3,277.2 L518.6,282.8 L518.9,285.2 L519.2,278.0 L519.4,280.2 L519.7,280.8 L520.0,285.7 L520.3,277.7 L520.6,276.7 L520.8,279.4 L521.1,284.2 L521.4,278.6 L521.7,287.0 L522.0,282.8 L522.2,276.8 L522.5,282.6 L522.8,280.6 L523.1,280.3 L523.4,283.7 L523.6,279.9 L523.9,280.8 L524.2,286.7 L524.5,283.7 L524.8,283.5 L525.0,283.2 L525.3,276.9 L525.6,280.4 L525.9,288.3 L526.2,288.0 L526.4,288.0 L526.7,278.0 L527.0,286.4 L527.3,283.1 L527.6,279.9 L527.8,286.9 L528.1,277.1 L528.4,286.7 L528.7,279.4 L529.0,280.3 L529.2,279.2 L529.5,279.7 L529.8,285.4 L530.1,287.4 L530.4,285.1 L530.6,281.1 L530.9,284.7 L531.2,285.3 L531.5,278.6 L531.8,286.3 L532.0,278.1 L532.3,282.6 L532.6,280.8 L532.9,284.0 L533.2,280.0 L533.4,283.2 L533.7,283.8 L534.0,277.7 L534.3,282.8 L534.6,282.2 L534.8,280.5 L535.1,278.4 L535.4,278.1 L535.7,284.1 L536.0,281.5 L536.2,285.6 L536.5,279.8 L536.8,284.9 L537.1,278.6 L537.4,279.7 L537.6,277.8 L537.9,285.2 L538.2,285.5 L538.5,281.3 L538.8,280.3 L539.0,285.1 L539.3,287.0 L539.6,290.3 L539.9,282.5 L540.2,290.1 L540.4,284.3 L540.7,284.2 L541.0,287.0 L541.3,279.8 L541.6,289.2 L541.8,281.2 L542.1,285.8 L542.4,283.4 L542.7,283.2 L543.0,278.6 L543.2,281.2 L543.5,284.3 L543.8,279.7 L544.1,282.3 L544.4,281.5 L544.6,283.7 L544.9,291.4 L545.2,285.6 L545.5,282.0 L545.8,278.8 L546.0,288.4 L546.3,286.2 L546.6,286.0 L546.9,287.0 L547.2,279.7 L547.4,279.7 L547.7,278.7 L548.0,280.9 L548.3,286.0 L548.6,279.7 L548.8,289.3 L549.1,290.3 L549.4,287.0 L549.7,284.3 L550.0,283.9 L550.2,282.3 L550.5,285.2 L550.8,282.6 L551.1,286.8 L551.4,281.0 L551.6,279.2 L551.9,284.2 L552.2,279.9 L552.5,280.1 L552.8,288.7 L553.0,286.3 L553.3,281.6 L553.6,282.6 L553.9,283.6 L554.2,290.1 L554.4,281.3 L554.7,280.6 L555.0,279.9 L555.3,278.7 L555.6,284.3 L555.8,282.3 L556.1,283.1 L556.4,279.2 L556.7,275.5 L557.0,284.4 L557.2,281.0 L557.5,278.8 L557.8,280.3 L558.1,283.5 L558.4,275.3 L558.6,281.4 L558.9,277.9 L559.2,280.8 L559.5,278.4 L559.8,276.6 L560.0,283.3 L560.3,282.9 L560.6,275.3 L560.9,280.0 L561.2,282.9 L561.4,283.1 L561.7,281.7 L562.0,280.1 L562.3,280.2 L562.6,274.2 L562.8,281.0 L563.1,274.4 L563.4,274.7 L563.7,279.0 L564.0,275.3 L564.2,279.9 L564.5,281.6 L564.8,279.6 L565.1,275.2 L565.4,276.3 L565.6,280.1 L565.9,278.7 L566.2,277.9 L566.5,276.3 L566.8,283.6 L567.0,276.7 L567.3,277.0 L567.6,276.5 L567.9,280.1 L568.2,275.7 L568.4,276.2 L568.7,278.1 L569.0,277.5 L569.3,277.6 L569.6,274.5 L569.8,277.7 L570.1,280.3 L570.4,281.3 L570.7,280.5 L571.0,277.3 L571.2,279.8 L571.5,277.8 L571.8,280.2 L572.1,291.3 L572.4,302.4 L572.6,286.1 L572.9,285.0 L573.2,280.0 L573.5,279.5 L573.8,275.2 L574.0,276.9 L574.3,280.6 L574.6,279.1 L574.9,281.2 L575.2,276.3 L575.4,275.4 L575.7,280.2 L576.0,279.6 L576.3,283.2 L576.6,281.1 L576.8,276.9 L577.1,282.2 L577.4,281.8 L577.7,281.9 L578.0,281.0 L578.2,277.0 L578.5,283.9 L578.8,282.2 L579.1,282.3 L579.4,281.7 L579.6,280.8 L579.9,283.0 L580.2,276.3 L580.5,279.6 L580.8,283.7 L581.0,283.6 L581.3,295.6 L581.6,282.2 L581.9,280.9 L582.2,275.8 L582.4,275.2 L582.7,273.2 L583.0,274.5 L583.3,272.4 L583.6,271.3 L583.8,273.3 L584.1,275.9 L584.4,272.8 L584.7,273.9 L585.0,271.2 L585.2,274.1 L585.5,273.5 L585.8,271.1 L586.1,271.7 L586.4,272.9 L586.6,269.4 L586.9,271.6 L587.2,274.1 L587.5,273.9 L587.8,272.1 L588.0,273.4 L588.3,271.1 L588.6,269.8 L588.9,270.6 L589.2,272.9 L589.4,270.9 L589.7,274.4 L590.0,269.2 L590.3,269.4 L590.6,272.4 L590.8,269.8 L591.1,271.4 L591.4,271.3 L591.7,273.6 L592.0,271.7 L592.2,273.6 L592.5,276.8 L592.8,273.7 L593.1,283.9 L593.4,272.9 L593.6,276.5 L593.9,273.4 L594.2,273.8 L594.5,272.9 L594.8,273.2 L595.0,269.5 L595.3,268.9 L595.6,272.8 L595.9,270.7 L596.2,272.5 L596.4,271.8 L596.7,269.6 L597.0,269.8 L597.3,272.6 L597.6,266.8 L597.8,270.6 L598.1,270.7 L598.4,270.2 L598.7,268.4 L599.0,266.5 L599.2,269.5 L599.5,268.2 L599.8,265.7 L600.1,267.5 L600.4,266.8 L600.6,265.4 L600.9,267.7 L601.2,263.6 L601.5,266.5 L601.8,267.7 L602.0,263.6 L602.3,265.2 L602.6,266.4 L602.9,266.4 L603.2,263.6 L603.4,265.3 L603.7,262.3 L604.0,261.0 L604.3,265.6 L604.6,261.4 L604.8,261.4 L605.1,261.6 L605.4,264.5 L605.7,264.8 L606.0,262.2 L606.2,262.0 L606.5,262.9 L606.8,259.7 L607.1,258.8 L607.4,258.8 L607.6,256.9 L607.9,256.6 L608.2,257.5 L608.5,258.5 L608.8,256.4 L609.0,257.5 L609.3,255.7 L609.6,257.0 L609.9,258.6 L610.2,257.6 L610.4,257.6 L610.7,257.8 L611.0,258.4 L611.3,253.2 L611.6,255.3 L611.8,255.3 L612.1,254.6 L612.4,256.2 L612.7,254.8 L613.0,255.3 L613.2,257.3 L613.5,254.0 L613.8,255.4 L614.1,253.9 L614.4,256.1 L614.6,254.4 L614.9,255.2 L615.2,255.7 L615.5,250.2 L615.8,252.4 L616.0,250.3 L616.3,253.8 L616.6,254.7 L616.9,254.1 L617.2,254.2 L617.4,251.5 L617.7,254.7 L618.0,251.8 L618.3,252.4 L618.6,253.3 L618.8,253.1 L619.1,254.1 L619.4,252.6 L619.7,251.0 L620.0,249.5 L620.2,250.9 L620.5,251.7 L620.8,252.6 L621.1,255.8 L621.4,252.4 L621.6,252.7 L621.9,252.0 L622.2,249.9 L622.5,252.8 L622.8,252.9 L623.0,253.6 L623.3,251.5 L623.6,251.1 L623.9,250.5 L624.2,248.6 L624.4,250.9 L624.7,251.0 L625.0,251.1 L625.3,247.5 L625.6,246.8 L625.8,247.6 L626.1,249.1 L626.4,247.0 L626.7,248.9 L627.0,250.2 L627.2,250.1 L627.5,246.0 L627.8,249.9 L628.1,249.9 L628.4,247.2 L628.6,249.1 L628.9,248.9 L629.2,247.5 L629.5,250.6 L629.8,246.1 L630.0,248.5 L630.3,244.6 L630.6,246.1 L630.9,246.3 L631.2,247.9 L631.4,247.2 L631.7,243.8 L632.0,245.1 L632.3,248.1 L632.6,243.5 L632.8,246.7 L633.1,244.6 L633.4,242.3 L633.7,241.7 L634.0,242.8 L634.2,244.0 L634.5,246.2 L634.8,246.7 L635.1,243.1 L635.4,244.3 L635.6,246.6 L635.9,244.4 L636.2,242.6 L636.5,243.4 L636.8,244.7 L637.0,244.8 L637.3,241.2 L637.6,242.3 L637.9,243.4 L638.2,243.0 L638.4,243.5 L638.7,245.2 L639.0,240.7 L639.3,241.9 L639.6,244.1 L639.8,241.2 L640.1,241.6 L640.4,245.2 L640.7,241.5 L641.0,243.2 L641.2,243.7 L641.5,243.8 L641.8,242.8 L642.1,241.8 L642.4,238.8 L642.6,242.7 L642.9,241.8 L643.2,239.2 L643.5,241.1 L643.8,240.7 L644.0,235.9 L644.3,239.3 L644.6,237.1 L644.9,238.0 L645.2,239.8 L645.4,238.7 L645.7,238.8 L646.0,238.2 L646.3,235.6 L646.6,233.6 L646.8,233.0 L647.1,236.9 L647.4,233.6 L647.7,233.8 L648.0,235.9 L648.2,233.2 L648.5,234.7 L648.8,232.6 L649.1,234.0 L649.4,233.4 L649.6,234.8 L649.9,231.9 L650.2,231.2 L650.5,230.2 L650.8,229.5 L651.0,229.4 L651.3,228.5 L651.6,228.1 L651.9,229.9 L652.2,228.8 L652.4,226.4 L652.7,228.9 L653.0,228.9 L653.3,228.8 L653.6,225.5 L653.8,225.7 L654.1,229.6 L654.4,223.9 L654.7,224.5 L655.0,226.8 L655.2,226.8 L655.5,227.4 L655.8,224.1 L656.1,224.7 L656.4,222.5 L656.6,222.4 L656.9,225.4 L657.2,223.2 L657.5,224.8 L657.8,220.8 L658.0,223.1 L658.3,225.8 L658.6,222.5 L658.9,224.1 L659.2,219.8 L659.4,220.1 L659.7,223.1 L660.0,219.3 L660.3,220.9 L660.6,224.6 L660.8,218.8 L661.1,220.2 L661.4,223.8 L661.7,221.8 L662.0,221.2 L662.2,220.5 L662.5,222.1 L662.8,219.9 L663.1,222.3 L663.4,221.9 L663.6,223.3 L663.9,218.7 L664.2,217.9 L664.5,222.6 L664.8,218.8 L665.0,220.8 L665.3,220.5 L665.6,219.7 L665.9,219.3 L666.2,216.4 L666.4,216.8 L666.7,217.5 L667.0,218.5 L667.3,219.4 L667.6,218.4 L667.8,221.2 L668.1,215.5 L668.4,218.6 L668.7,218.5 L669.0,218.7 L669.2,217.0 L669.5,217.7 L669.8,217.5 L670.1,216.5 L670.4,218.8 L670.6,215.0 L670.9,214.7 L671.2,218.7 L671.5,217.9 L671.8,213.3 L672.0,214.9 L672.3,213.5 L672.6,212.6 L672.9,215.0 L673.2,213.9 L673.4,216.3 L673.7,212.9 L674.0,215.1 L674.3,216.1 L674.6,215.3 L674.8,216.1 L675.1,216.6 L675.4,216.4 L675.7,211.0 L676.0,213.2 L676.2,212.9 L676.5,210.2 L676.8,213.5 L677.1,211.1 L677.4,214.1 L677.6,209.7 L677.9,209.4 L678.2,210.8 L678.5,213.6 L678.8,209.8 L679.0,210.3 L679.3,213.4 L679.6,208.2 L679.9,213.4 L680.2,211.0 L680.4,207.3 L680.7,209.4 L681.0,207.6 L681.3,208.7 L681.6,207.8 L681.8,209.6 L682.1,211.2 L682.4,206.4 L682.7,210.8 L683.0,206.7 L683.2,204.9 L683.5,206.6 L683.8,205.9 L684.1,205.1 L684.4,207.1 L684.6,208.4 L684.9,206.4 L685.2,208.3 L685.5,206.3 L685.8,207.4 L686.0,205.4 L686.3,204.9 L686.6,207.9 L686.9,203.9 L687.2,206.3 L687.4,202.0 L687.7,202.4 L688.0,201.0 L688.3,204.6 L688.6,200.3 L688.8,200.0 L689.1,200.6 L689.4,200.1 L689.7,201.9 L690.0,202.6 L690.2,199.0 L690.5,199.1 L690.8,199.8 L691.1,202.8 L691.4,204.0 L691.6,203.9 L691.9,204.3 L692.2,199.8 L692.5,203.3 L692.8,201.1 L693.0,200.6 L693.3,197.9 L693.6,200.2 L693.9,200.5 L694.2,202.3 L694.4,201.2 L694.7,203.4 L695.0,203.1 L695.3,197.5 L695.6,199.8 L695.8,201.1 L696.1,197.5 L696.4,198.7 L696.7,199.4 L697.0,199.2 L697.2,197.0 L697.5,201.6 L697.8,197.3 L698.1,200.5 L698.4,199.6 L698.6,199.3 L698.9,196.3 L699.2,195.6 L699.5,194.3 L699.8,196.6 L700.0,194.4 L700.3,194.7 L700.6,193.5 L700.9,193.5 L701.2,194.1 L701.4,195.4 L701.7,193.2 L702.0,190.2 L702.3,193.1 L702.6,192.6 L702.8,189.4 L703.1,189.6 L703.4,193.0 L703.7,189.8 L704.0,188.8 L704.2,188.2 L704.5,190.1 L704.8,191.9 L705.1,192.8 L705.4,188.9 L705.6,191.5 L705.9,187.6 L706.2,188.3 L706.5,189.9 L706.8,187.4 L707.0,189.9 L707.3,186.2 L707.6,188.7 L707.9,187.9 L708.2,188.3 L708.4,187.5 L708.7,187.0 L709.0,185.6 L709.3,184.0 L709.6,184.1 L709.8,184.4 L710.1,182.4 L710.4,183.5 L710.7,185.9 L711.0,182.2 L711.2,185.4 L711.5,183.6 L711.8,185.1 L712.1,184.1 L712.4,182.9 L712.6,180.6 L712.9,181.9 L713.2,179.8 L713.5,182.7 L713.8,184.0 L714.0,183.0 L714.3,181.1 L714.6,178.7 L714.9,182.6 L715.2,177.2 L715.4,178.0 L715.7,179.8 L716.0,180.9 L716.3,175.8 L716.6,177.3 L716.8,178.5 L717.1,179.8 L717.4,176.8 L717.7,175.4 L718.0,177.4 L718.2,174.4 L718.5,175.2 L718.8,176.1 L719.1,174.5 L719.4,172.4" fill="none" stroke="#008000" stroke-width="1.1" stroke-linejoin="round"/>
</g>
<rect x="100" y="60" width="620" height="480" fill="none" stroke="#000" stroke-width="1.4"/>
<path d="M100,539.45 H720" stroke="#800080" stroke-width="1.1" opacity="0.48" fill="none"/>
<path d="M152.4,540 v-5.2 M152.4,60 v6.6 M290.4,540 v-5.2 M290.4,60 v6.6 M428.5,540 v-5.2 M428.5,60 v6.6 M566.5,540 v-5.2 M566.5,60 v6.6 M704.6,540 v-5.2 M704.6,60 v6.6 M100,435.65 h6.3 M720,435.65 h-5.3 M100,331.3 h6.3 M720,331.3 h-5.3 M100,226.96 h6.3 M720,226.96 h-5.3 M100,122.6 h6.3 M720,122.6 h-5.3 M100,540 h6.3 M720,540 h-5.3" stroke="#000" stroke-width="0.7" fill="none"/>
<text x="153.70000000000002" y="556" font-size="17" text-anchor="middle" textLength="43.6" lengthAdjust="spacingAndGlyphs" >15:00</text><text x="153.4" y="573" font-size="17" text-anchor="middle" textLength="55" lengthAdjust="spacingAndGlyphs" >Mar 27</text><text x="291.7" y="556" font-size="17" text-anchor="middle" textLength="43.6" lengthAdjust="spacingAndGlyphs" >23:00</text><text x="291.4" y="573" font-size="17" text-anchor="middle" textLength="55" lengthAdjust="spacingAndGlyphs" >Mar 27</text><text x="429.8" y="556" font-size="17" text-anchor="middle" textLength="43.6" lengthAdjust="spacingAndGlyphs" >07:00</text><text x="429.5" y="573" font-size="17" text-anchor="middle" textLength="55" lengthAdjust="spacingAndGlyphs" >Mar 28</text><text x="567.8" y="556" font-size="17" text-anchor="middle" textLength="43.6" lengthAdjust="spacingAndGlyphs" >15:00</text><text x="567.5" y="573" font-size="17" text-anchor="middle" textLength="55" lengthAdjust="spacingAndGlyphs" >Mar 28</text><text x="705.9" y="556" font-size="17" text-anchor="middle" textLength="43.6" lengthAdjust="spacingAndGlyphs" >23:00</text><text x="705.6" y="573" font-size="17" text-anchor="middle" textLength="55" lengthAdjust="spacingAndGlyphs" >Mar 28</text><text x="95.5" y="544.8" font-size="17" text-anchor="end" textLength="9.2" lengthAdjust="spacingAndGlyphs" >0</text><text x="95.5" y="440.25" font-size="17" text-anchor="end" textLength="9.2" lengthAdjust="spacingAndGlyphs" >5</text><text x="95.5" y="335.90000000000003" font-size="17" text-anchor="end" textLength="18.9" lengthAdjust="spacingAndGlyphs" >10</text><text x="95.5" y="231.56" font-size="17" text-anchor="end" textLength="18.9" lengthAdjust="spacingAndGlyphs" >15</text><text x="95.5" y="127.19999999999999" font-size="17" text-anchor="end" textLength="18.9" lengthAdjust="spacingAndGlyphs" >20</text>
<text x="410" y="45" font-size="19.8" text-anchor="middle" textLength="253" lengthAdjust="spacingAndGlyphs" >APOLLO ILE Temperatures</text>
<text x="410.2" y="592" font-size="17" text-anchor="middle" textLength="91.6" lengthAdjust="spacingAndGlyphs" >Date (GMT)</text>
<text transform="translate(68.8,300.2) rotate(-90)" font-size="17" text-anchor="middle" textLength="131" lengthAdjust="spacingAndGlyphs">Temperature (C)</text>
<rect x="112.2" y="69.5" width="202.5" height="74" fill="#fff" stroke="#000" stroke-width="1.4"/>
<path d="M131.1,80.4 H162.8" stroke="#ff0000" stroke-width="0.7"/>
<path d="M131.1,96.4 H162.8" stroke="#0000ff" stroke-width="0.7"/>
<path d="M131.1,113.4 H162.8" stroke="#800080" stroke-width="0.7"/>
<path d="M131.1,130.6 H162.8" stroke="#008000" stroke-width="0.7"/>
<text x="176.0" y="83.7" font-size="14.1" text-anchor="start" textLength="36.5" lengthAdjust="spacingAndGlyphs" >MV70</text>
<text x="176.0" y="98.1" font-size="14.1" text-anchor="start" textLength="64.3" lengthAdjust="spacingAndGlyphs" >ILE_WALL</text>
<text x="176.0" y="115.9" font-size="14.1" text-anchor="start" textLength="121.8" lengthAdjust="spacingAndGlyphs" >ILE_EXHAUST_AIR</text>
<text x="176.0" y="132.8" font-size="14.1" text-anchor="start" textLength="74.4" lengthAdjust="spacingAndGlyphs" >ILE_INTAKE</text>
</svg>
</body></html>
